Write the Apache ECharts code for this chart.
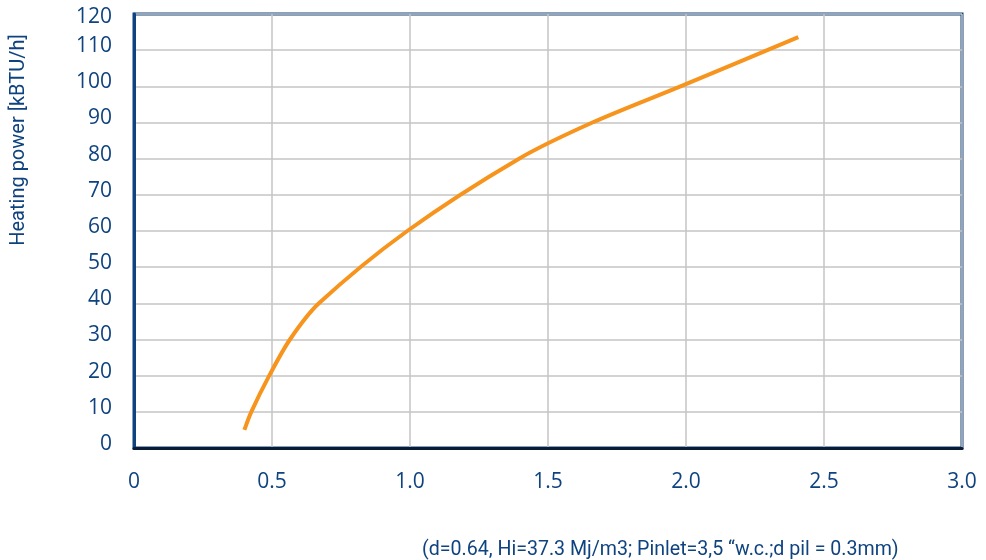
<!DOCTYPE html>
<html>
<head>
<meta charset="utf-8">
<script src="https://cdn.jsdelivr.net/npm/echarts@6/dist/echarts.min.js"></script>
<style>html,body{margin:0;padding:0;background:#fff;}#c{width:986px;height:560px;}</style>
</head>
<body>
<div id="c"></div>
<script>
var xTicks = [0, 0.5, 1.0, 1.5, 2.0, 2.5, 3.0];
var yTicks = [0, 10, 20, 30, 40, 50, 60, 70, 80, 90, 100, 110, 120];
var flowRate = [0.40, 0.425, 0.49, 0.565, 0.67, 0.99, 1.395, 1.661, 1.98, 2.407];
var heatingPower = [5, 10, 20, 30, 40, 60, 80, 90, 100, 113.6];
var yAxisTitle = 'Heating power [kBTU/h]';
var footnote = '(d=0.64, Hi=37.3 Mj/m3; Pinlet=3,5 \u201cw.c.;d pil = 0.3mm)';

var blue = '#0f437f';
var labelFont = '"Open Sans", "Noto Sans", sans-serif';
var condFont = 'Roboto, "Noto Sans", sans-serif';

var chart = echarts.init(document.getElementById('c'), null, {renderer: 'canvas'});
chart.setOption({
  animation: false,
  grid: {left: 134, top: 14, right: 24, bottom: 112, show: true, borderColor: blue, borderWidth: 3,
    containLabel: false, outerBoundsMode: 'none'},
  xAxis: {
    type: 'value', min: 0, max: 3, interval: 0.5,
    axisLine: {show: true, lineStyle: {color: '#0a1b35', width: 3}},
    axisTick: {show: false},
    splitLine: {show: true, lineStyle: {color: '#c4c4c4', width: 1.5}},
    axisLabel: {
      margin: 24, fontSize: 21, color: blue, fontFamily: labelFont,
      formatter: function (v) { return v === 0 ? '0' : v.toFixed(1); }
    }
  },
  yAxis: {
    type: 'value', min: 0, max: 120, interval: 10,
    axisLine: {show: true, lineStyle: {color: blue, width: 3}},
    axisTick: {show: false},
    splitLine: {show: true, lineStyle: {color: '#c4c4c4', width: 1.5}},
    axisLabel: {
      margin: 22, fontSize: 21, color: blue, fontFamily: labelFont, verticalAlign: 'bottom', lineHeight: 8,
      formatter: function (v) { return v === 120 ? '{top|120}' : String(v); },
      rich: {top: {fontSize: 21, color: blue, fontFamily: labelFont, padding: [14, 0, 0, 0], lineHeight: 8}}
    }
  },
  graphic: [
    {type: 'text', x: 19, y: 140, rotation: Math.PI / 2,
      style: {text: yAxisTitle, fill: blue, font: '20px ' + condFont, align: 'center', verticalAlign: 'middle'}},
    {type: 'text', x: 422, y: 550,
      style: {text: footnote, fill: blue, font: '19.6px ' + condFont, align: 'left', verticalAlign: 'middle'}}
  ],
  series: [{
    type: 'line',
    data: flowRate.map(function (x, i) { return [x, heatingPower[i]]; }),
    smooth: 0.3,
    showSymbol: false,
    lineStyle: {color: '#f7941d', width: 4}
  }]
});
</script>
</body>
</html>
